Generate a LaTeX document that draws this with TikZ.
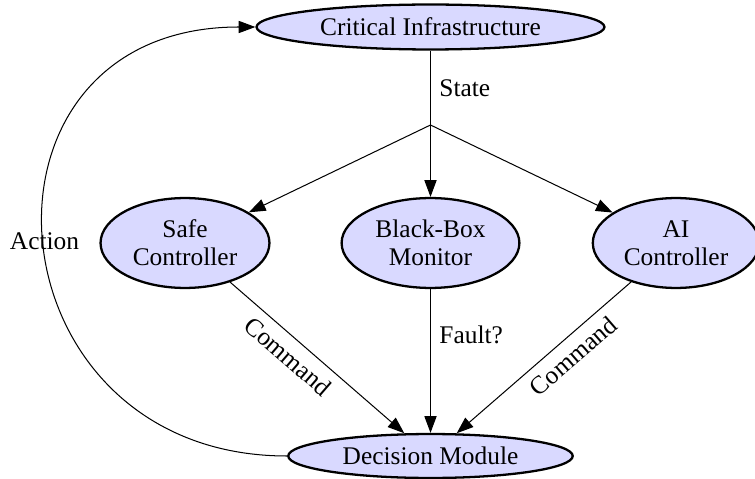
\documentclass[tikz,border=0pt]{standalone}
\usepackage{fontspec}
\setmainfont{Liberation Serif}
\usetikzlibrary{shapes.geometric,arrows.meta}

\tikzset{
  state/.style={ellipse, draw=black, line width=0.9pt, fill=blue!15,
    inner sep=0pt, align=center, font=\fontsize{10pt}{11pt}\selectfont},
  flow/.style={-{Triangle[length=6.6pt,width=4.8pt]}, line width=0.4pt},
  lbl/.style={font=\fontsize{10pt}{12pt}\selectfont}
}

\begin{document}
\begin{tikzpicture}[x=0.3937pt, y=-0.3937pt]
  \useasboundingbox (0,0) rectangle (755,479);

  % components
  \node[state, minimum width=137pt, minimum height=17.7pt] (infra) at (430.5,27) {Critical Infrastructure};
  \node[state, minimum width=66.5pt, minimum height=35.4pt] (safe) at (185,243) {Safe\\Controller};
  \node[state, minimum width=70pt, minimum height=35.4pt] (monitor) at (430.5,243) {Black-Box\\Monitor};
  \node[state, minimum width=65.5pt, minimum height=35.4pt] (ai) at (676,243) {AI\\Controller};
  \node[state, minimum width=112pt, minimum height=17.3pt] (decision) at (430.5,456) {Decision Module};

  % branching point of the state signal
  \coordinate (split) at (430.5,125);

  % state distribution
  \draw[line width=0.4pt] (infra) -- node[lbl, right, pos=0.5] {State} (split);
  \draw[flow] (split) -- (safe);
  \draw[flow] (split) -- (monitor);
  \draw[flow] (split) -- (ai);

  % commands and fault flag into the decision module
  \draw[flow] (safe) -- node[lbl, sloped, below, pos=0.4] {Command} (decision);
  \draw[flow] (monitor) -- node[lbl, right, pos=0.32] {Fault?} (decision);
  \draw[flow] (ai) -- node[lbl, sloped, below, pos=0.4] {Command} (decision);

  % feedback action
  \draw[flow] (decision.west) to[out=180, in=180, looseness=1.8]
    node[lbl, pos=0.5] {Action} (infra.west);
\end{tikzpicture}
\end{document}
